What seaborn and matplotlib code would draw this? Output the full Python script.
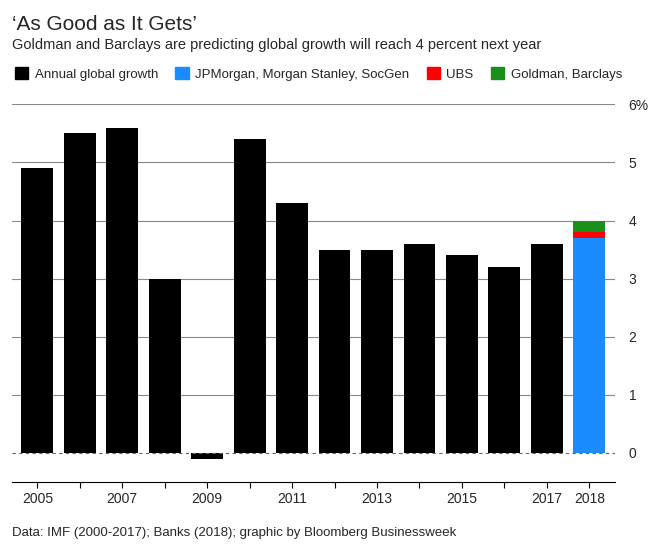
import pandas as pd
import seaborn as sns
import matplotlib.pyplot as plt

years  = [str(y) for y in range(2005, 2018)]
growth = [4.9, 5.5, 5.6, 3.0, -0.1, 5.4, 4.3, 3.5, 3.5, 3.6, 3.4, 3.2, 3.6]
fc_labels = ["JPMorgan, Morgan Stanley, SocGen", "UBS", "Goldman, Barclays"]
fc_values = [3.7, 0.1, 0.2]     # stacked increments for 2018
fc_colors = ["#1a8cff", "#ff0000", "#1a8f1a"]

sns.set_style("white")
plt.rcParams['font.family'] = ['Liberation Sans', 'DejaVu Sans']

df = pd.DataFrame({"year": years + ["2018"], "growth": growth + [0]})

fig = plt.figure(figsize=(6.61, 5.49), dpi=100)
ax = fig.add_axes([0.018, 0.122, 0.912, 0.688])

sns.barplot(data=df, x="year", y="growth", color="black", width=0.75,
            saturation=1, linewidth=0, edgecolor="none", ax=ax, zorder=3)

bottom = 0
for v, c in zip(fc_values, fc_colors):
    ax.bar(len(years), v, bottom=bottom, color=c, width=0.75, linewidth=0, zorder=3)
    bottom += v

ax.set_ylim(-0.5, 6)
ax.set_xlim(-0.6, len(years) + 0.6)
for y in range(1, 7):
    ax.axhline(y, color="#888888", lw=0.8, zorder=1)
ax.axhline(0, color="#666666", lw=0.8, ls=(0, (3, 3)), zorder=4)

ax.yaxis.tick_right()
ax.set_yticks(range(0, 7))
ax.set_yticklabels(["0", "1", "2", "3", "4", "5", "6%"])
ax.tick_params(axis="y", length=0, pad=10, labelsize=10)
ax.set_xticks(range(len(df)))
ax.set_xticklabels([y if (int(y) % 2 == 1 or y == "2018") else "" for y in df["year"]], fontsize=10)
ax.tick_params(axis="x", length=4, color="black", bottom=True)
ax.set_xlabel("")
ax.set_ylabel("")
for s in ["top", "left", "right"]:
    ax.spines[s].set_visible(False)
ax.spines["bottom"].set_color("black")

fig.text(0.018, 0.955, "\u2018As Good as It Gets\u2019", fontsize=15, va="center")
fig.text(0.018, 0.918, "Goldman and Barclays are predicting global growth will reach 4 percent next year",
         fontsize=10.5, va="center")

handles = [plt.Rectangle((0, 0), 1, 1, color="black")] + \
          [plt.Rectangle((0, 0), 1, 1, color=c) for c in fc_colors]
fig.legend(handles, ["Annual global growth"] + fc_labels, loc="center left",
           bbox_to_anchor=(0.005, 0.865), ncol=4, frameon=False, fontsize=9.5,
           handlelength=1.0, handleheight=1.0, handletextpad=0.5, columnspacing=1.3)

fig.text(0.018, 0.03, "Data: IMF (2000-2017); Banks (2018); graphic by Bloomberg Businessweek",
         fontsize=9.5, va="center")

fig.savefig("out.png", dpi=100)
